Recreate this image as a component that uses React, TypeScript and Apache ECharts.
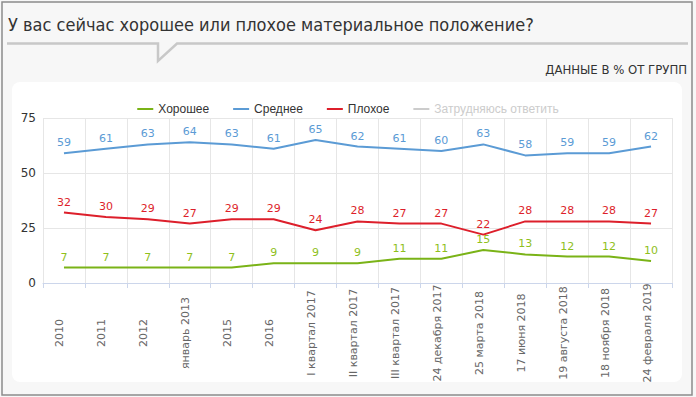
import React, { useEffect, useRef } from "react";
import * as echarts from "echarts";

const categories = [
  "2010", "2011", "2012", "январь 2013", "2015", "2016",
  "I квартал 2017", "II квартал 2017", "III квартал 2017",
  "24 декабря 2017", "25 марта 2018", "17 июня 2018",
  "19 августа 2018", "18 ноября 2018", "24 февраля 2019",
];
const good = [7, 7, 7, 7, 7, 9, 9, 9, 11, 11, 15, 13, 12, 12, 10];
const average = [59, 61, 63, 64, 63, 61, 65, 62, 61, 60, 63, 58, 59, 59, 62];
const bad = [32, 30, 29, 27, 29, 29, 24, 28, 27, 27, 22, 28, 28, 28, 27];
const unsure = [2, 2, 1, 2, 1, 1, 2, 1, 1, 2, 0, 1, 1, 1, 1];
const yTicks = [0, 25, 50, 75];

const FONT = "'DejaVu Sans', Verdana, sans-serif";
const COND = "'DejaVu Sans Condensed', 'Liberation Sans Narrow', 'DejaVu Sans', sans-serif";

function mkSeries(name: string, data: number[], color: string, labelColor: string) {
  return {
    name,
    type: "line",
    data,
    symbol: "circle",
    symbolSize: 0,
    showSymbol: true,
    lineStyle: { color, width: 2 },
    itemStyle: { color },
    label: {
      show: true,
      position: "top",
      distance: 5,
      color: labelColor,
      fontSize: 11,
      fontFamily: FONT,
    },
  };
}

export default function App() {
  const ref = useRef<HTMLDivElement>(null);
  useEffect(() => {
    if (!ref.current) return;
    const chart = echarts.init(ref.current, null, { renderer: "svg" });
    chart.setOption({
      animation: false,
      backgroundColor: "#f7f7f7",
      graphic: [
        { type: "rect", z: -10, shape: { x: 2, y: 2, width: 690, height: 393 }, style: { fill: "#f7f7f7", stroke: "#8c8c8c", lineWidth: 1.5 } },
        { type: "rect", z: -9, shape: { x: 12, y: 82, width: 670, height: 300, r: 8 }, style: { fill: "#ffffff" } },
        { type: "polyline", z: -8, shape: { points: [[7, 43.5], [158, 43.5], [158, 61], [177, 43.5], [688, 43.5]] }, style: { stroke: "#c8c8c8", lineWidth: 2.5, fill: "none" } },
        { type: "text", z: 5, x: 8, y: 24, style: { text: "У вас сейчас хорошее или плохое материальное положение?", fontSize: 18, fontFamily: COND, fill: "#333333", textVerticalAlign: "middle" } },
        { type: "text", z: 5, x: 687, y: 69, style: { text: "ДАННЫЕ В % ОТ ГРУПП", fontSize: 13, fontFamily: COND, fill: "#333333", textAlign: "right", textVerticalAlign: "middle" } },
      ],
      legend: {
        top: 98,
        left: "center",
        icon: "rect",
        itemWidth: 16,
        itemHeight: 2,
        itemGap: 24,
        inactiveColor: "#cccccc",
        textStyle: { fontSize: 12, fontFamily: "'Liberation Sans', Arial, sans-serif", color: "#333333" },
        data: ["Хорошее", "Среднее", "Плохое", "Затрудняюсь ответить"],
        selected: { "Затрудняюсь ответить": false },
      },
      grid: { left: 43, right: 24, top: 118, bottom: 114 },
      xAxis: {
        type: "category",
        data: categories,
        boundaryGap: true,
        axisLine: { lineStyle: { color: "#ccd6eb" } },
        axisTick: { show: true, length: 5, lineStyle: { color: "#ccd6eb" } },
        splitLine: { show: true, lineStyle: { color: "#e6e6e6" } },
        axisLabel: {
          rotate: 90,
          interval: 0,
          margin: 50,
          align: "center",
          verticalAlign: "bottom",
          lineHeight: 8,
          fontSize: 11,
          fontFamily: FONT,
          color: "#666666",
        },
      },
      yAxis: {
        type: "value",
        min: yTicks[0],
        max: yTicks[yTicks.length - 1],
        interval: 25,
        axisLine: { show: false },
        axisTick: { show: false },
        splitLine: { lineStyle: { color: "#e6e6e6" } },
        axisLabel: { fontSize: 12, fontFamily: FONT, color: "#333333", margin: 7 },
      },
      series: [
        mkSeries("Хорошее", good, "#7ab317", "#8fc01c"),
        mkSeries("Среднее", average, "#5b9bd5", "#5b9bd5"),
        mkSeries("Плохое", bad, "#dd1f2b", "#dd1f2b"),
        mkSeries("Затрудняюсь ответить", unsure, "#bbbbbb", "#bbbbbb"),
      ],
    });
    return () => chart.dispose();
  }, []);
  return <div ref={ref} style={{ position: "fixed", left: 0, top: 0, width: 696, height: 397 }} />;
}
